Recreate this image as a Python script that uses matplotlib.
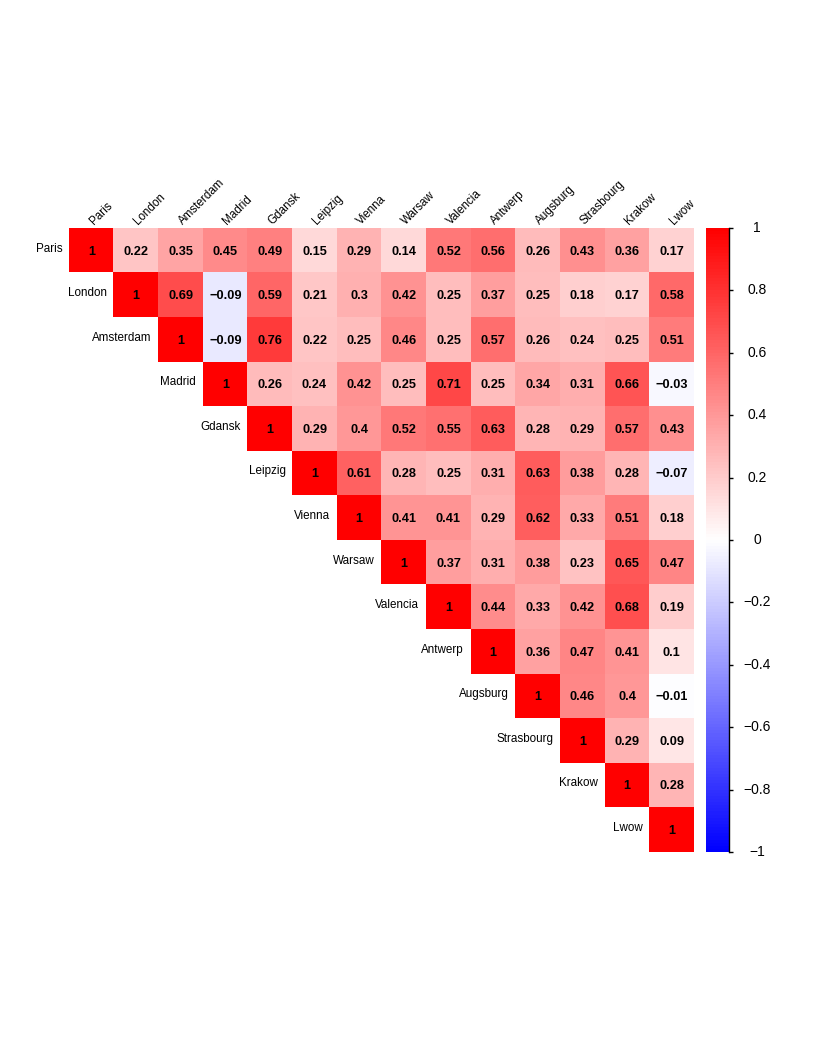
import numpy as np
import matplotlib
matplotlib.use('Agg')
import matplotlib.pyplot as plt
from matplotlib.colors import LinearSegmentedColormap

plt.rcParams['font.family'] = ['Liberation Sans', 'DejaVu Sans']

cities = ["Paris", "London", "Amsterdam", "Madrid", "Gdansk", "Leipzig", "Vienna",
          "Warsaw", "Valencia", "Antwerp", "Augsburg", "Strasbourg", "Krakow", "Lwow"]

# upper triangle values, row by row (starting at the diagonal)
upper_rows = [
    [1, 0.22, 0.35, 0.45, 0.49, 0.15, 0.29, 0.14, 0.52, 0.56, 0.26, 0.43, 0.36, 0.17],
    [1, 0.69, -0.09, 0.59, 0.21, 0.3, 0.42, 0.25, 0.37, 0.25, 0.18, 0.17, 0.58],
    [1, -0.09, 0.76, 0.22, 0.25, 0.46, 0.25, 0.57, 0.26, 0.24, 0.25, 0.51],
    [1, 0.26, 0.24, 0.42, 0.25, 0.71, 0.25, 0.34, 0.31, 0.66, -0.03],
    [1, 0.29, 0.4, 0.52, 0.55, 0.63, 0.28, 0.29, 0.57, 0.43],
    [1, 0.61, 0.28, 0.25, 0.31, 0.63, 0.38, 0.28, -0.07],
    [1, 0.41, 0.41, 0.29, 0.62, 0.33, 0.51, 0.18],
    [1, 0.37, 0.31, 0.38, 0.23, 0.65, 0.47],
    [1, 0.44, 0.33, 0.42, 0.68, 0.19],
    [1, 0.36, 0.47, 0.41, 0.1],
    [1, 0.46, 0.4, -0.01],
    [1, 0.29, 0.09],
    [1, 0.28],
    [1],
]

cbar_ticks = [1, 0.8, 0.6, 0.4, 0.2, 0, -0.2, -0.4, -0.6, -0.8, -1]

n = len(cities)
M = np.full((n, n), np.nan)
for i, row in enumerate(upper_rows):
    for k, v in enumerate(row):
        M[i, i + k] = v

cmap = LinearSegmentedColormap.from_list("bwr_cp", ["#0000FF", "#FFFFFF", "#FF0000"], N=200)

W, H = 830, 1038
fig = plt.figure(figsize=(W / 100, H / 100), dpi=100)

x0, x1, y0, y1 = 69, 694, 228, 852
ax = fig.add_axes([x0 / W, 1 - y1 / H, (x1 - x0) / W, (y1 - y0) / H])
masked = np.ma.masked_invalid(M)
ax.imshow(masked, cmap=cmap, vmin=-1, vmax=1, aspect='auto', interpolation='nearest',
          extent=[-0.5, n - 0.5, n - 0.5, -0.5])
ax.set_xlim(-0.5, n - 0.5)
ax.set_ylim(n - 0.5, -0.5)
ax.axis('off')

def fmt(v):
    if v == 1:
        return "1"
    s = f"{v:.2f}".rstrip('0').rstrip('.')
    return s.replace('-', '\u2212')

for i in range(n):
    for j in range(i, n):
        ax.text(j, i + 0.03, fmt(M[i, j]), ha='center', va='center',
                fontsize=9.2, fontweight='bold', color='black')

# row labels
for i, c in enumerate(cities):
    ax.text(i - 0.5 - 0.15, i - 0.04, c, ha='right', va='center', fontsize=8.4, color='black',
            clip_on=False)

# column labels
for j, c in enumerate(cities):
    ax.text(j + 0.05, -0.5 - 0.07, c, ha='left', va='baseline', rotation=45,
            rotation_mode='anchor', fontsize=8.4, color='black', clip_on=False)

# colorbar
cx0, cx1 = 706, 729
cax = fig.add_axes([cx0 / W, 1 - y1 / H, (cx1 - cx0) / W, (y1 - y0) / H])
grad = np.linspace(-1, 1, 200).reshape(-1, 1)
cax.imshow(grad, cmap=cmap, vmin=-1, vmax=1, aspect='auto', origin='lower',
           extent=[0, 1, -1, 1], interpolation='nearest')
cax.set_xlim(0, 1)
cax.set_ylim(-1, 1)
for s in ['left', 'top', 'bottom']:
    cax.spines[s].set_visible(False)
cax.spines['right'].set_linewidth(1.0)
cax.set_xticks([])
cax.yaxis.tick_right()
cax.set_yticks(cbar_ticks)
cax.set_yticklabels([])
cax.tick_params(axis='y', direction='out', length=3, width=1)
for t in cbar_ticks:
    cax.text((757 - cx0) / (cx1 - cx0), t, fmt(t), transform=cax.get_yaxis_transform(),
             ha='center', va='center', fontsize=10, color='black')

fig.savefig("out.png", dpi=100, facecolor='white')
